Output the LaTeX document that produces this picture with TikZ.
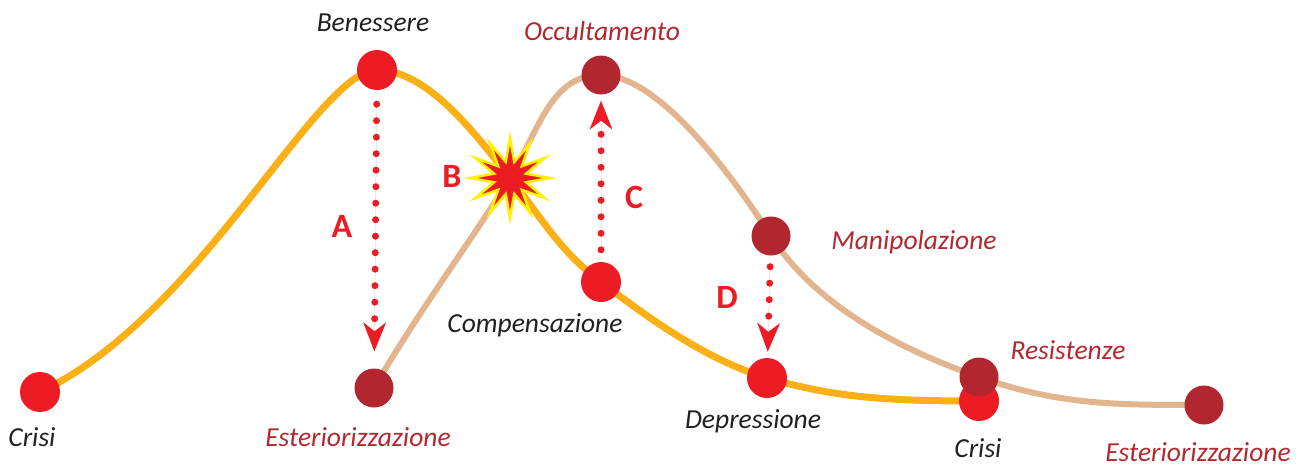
\documentclass[tikz,border=0pt]{standalone}
\usepackage{fontspec}
\setmainfont{Carlito}
\usepackage{xcolor}
\definecolor{cRed}{HTML}{ED1C24}
\definecolor{cDark}{HTML}{B1262F}
\definecolor{cOrange}{HTML}{FBB017}
\definecolor{cTan}{HTML}{E3B58F}
\definecolor{cText}{HTML}{231F20}
\definecolor{cLabel}{HTML}{B2282E}
\definecolor{cBurst}{HTML}{FFF200}
\usepackage{tikz}
\usetikzlibrary{positioning,arrows.meta,shapes.geometric,backgrounds}
\tikzset{
  dot-red/.style={circle,fill=cRed,minimum size=40pt,inner sep=0pt},
  dot-dark/.style={circle,fill=cDark,minimum size=39pt,inner sep=0pt},
  curve-main/.style={line width=7pt,draw=cOrange},
  curve-side/.style={line width=6pt,draw=cTan},
  arrow-dots/.style={draw=cRed,fill=cRed,line width=7pt,line cap=round,
    dash pattern=on 0pt off 16.5pt,
    -{Stealth[length=29pt,width=23pt,inset=9pt,line width=0pt 0]}},
  label-dark/.style={font=\fontsize{27.5}{31}\selectfont\itshape,text=cText,inner sep=0pt},
  label-red/.style={label-dark,text=cLabel},
  letter/.style={font=\fontsize{34}{38}\selectfont\bfseries,text=cRed,inner sep=0pt},
  burst/.style={star,star points=12,star point ratio=2.4,minimum size=80pt,
    inner sep=0pt,fill=cRed,draw=cBurst,line width=2.5pt},
}
\begin{document}
\begin{tikzpicture}[x=1pt,y=-1pt]
  \useasboundingbox (0,0) rectangle (1313,466);
  % points on the two curves
  \node[dot-red]  (crisiA) at (40,392)   {};
  \node[dot-red]  (ben)    at (377,70)   {};
  \node[dot-dark] (est1)   at (374,388)  {};
  \node[burst]    (burst)  at (510,178)  {};
  \node[dot-dark] (occ)    at (601,75)   {};
  \node[dot-red]  (comp)   at (601,282)  {};
  \node[dot-dark] (manip)  at (771,236)  {};
  \node[dot-red]  (dep)    at (767,378)  {};
  \node[dot-red]  (crisiB) at (979,401)  {};
  \node[dot-dark] (resist) at (979,377)  {};
  \node[dot-dark] (est2)   at (1204,405) {};
  % curves
  \begin{scope}[on background layer]
    \draw[curve-main] (crisiA.center) .. controls +(160,-75) and +(-60,0) .. (ben.center)
      .. controls +(50,0) and +(-35,-45) .. (burst.center)
      .. controls +(35,45) and +(-40,-30) .. (comp.center)
      .. controls +(50,38) and +(-60,-18) .. (dep.center)
      .. controls +(70,20) and +(-90,0) .. (crisiB.center);
    \draw[curve-side] (est1.center) .. controls +(40,-70) and +(-30,50) .. (burst.center)
      .. controls +(30,-50) and +(-50,0) .. (occ.center)
      .. controls +(55,0) and +(-45,-70) .. (manip.center)
      .. controls +(45,70) and +(-80,-28) .. (resist.center)
      .. controls +(80,28) and +(-90,0) .. (est2.center);
  \end{scope}
  % dotted arrows
  \draw[arrow-dots,shorten <=14pt,shorten >=17pt] (ben) -- (est1);
  \draw[arrow-dots,shorten <=12pt,shorten >=6pt] (comp) -- (occ);
  \draw[arrow-dots,shorten <=11pt,shorten >=6pt] (manip) -- (dep);
  % letters
  \node[letter] (lA) at (342,226) {A};
  \node[letter] (lB) at (452,176) {B};
  \node[letter] (lC) at (634,197) {C};
  \node[letter] (lD) at (727,297) {D};
  % labels
  \node[label-dark] (tBen)    at (373,23)   {Benessere};
  \node[label-red]  (tOcc)    at (602,31)   {Occultamento};
  \node[label-dark] (tCrisiA) at (32,437)   {Crisi};
  \node[label-red]  (tEst1)   at (358,437)  {Esteriorizzazione};
  \node[label-dark] (tComp)   at (535,325)  {Compensazione};
  \node[label-red]  (tManip)  at (914,242)  {Manipolazione};
  \node[label-dark] (tDep)    at (753,421)  {Depressione};
  \node[label-red]  (tRes)    at (1068,350) {Resistenze};
  \node[label-dark] (tCrisiB) at (978,448)  {Crisi};
  \node[label-red]  (tEst2)   at (1198,452) {Esteriorizzazione};
\end{tikzpicture}
\end{document}
